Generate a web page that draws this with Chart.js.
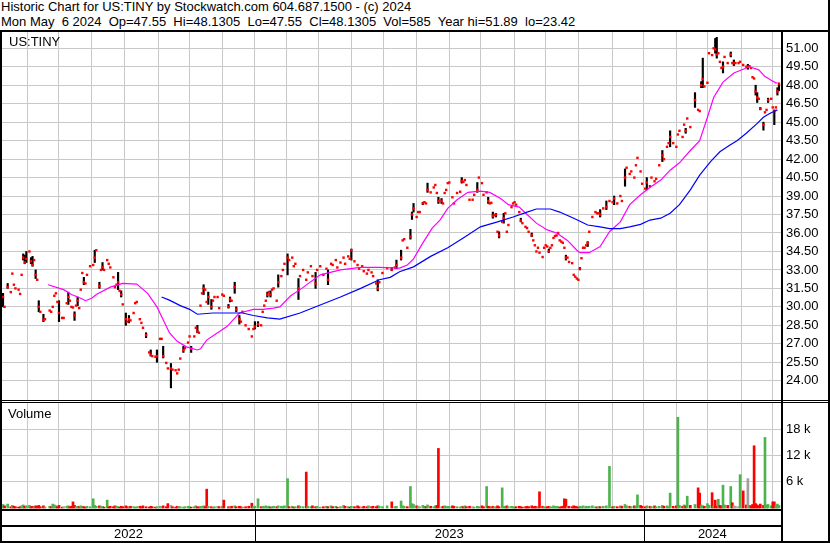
<!DOCTYPE html>
<html><head><meta charset="utf-8">
<script src="https://cdn.jsdelivr.net/npm/chart.js@4.4.1/dist/chart.umd.min.js"></script>
<style>
html,body{margin:0;padding:0;background:#fff;}
#wrap{position:relative;width:830px;height:543px;overflow:hidden;font-family:"Liberation Sans",Arial,sans-serif;color:#000;background:#fff;}
.t{position:absolute;white-space:pre;font-size:13px;line-height:15px;}
.ln{position:absolute;background:#000;}
canvas{position:absolute;}
</style></head><body>
<div id="wrap">
 <div class="t" style="left:1px;top:-1px">Historic Chart for US:TINY by Stockwatch.com 604.687.1500 - (c) 2024</div>
 <div class="t" style="left:1px;top:14px">Mon May  6 2024  Op=47.55  Hi=48.1305  Lo=47.55  Cl=48.1305  Vol=585  Year hi=51.89  lo=23.42</div>
 <canvas id="pc" width="826" height="368" style="left:2px;top:32px"></canvas>
 <canvas id="vc" width="826" height="138" style="left:2px;top:403px"></canvas>
 <div class="t" style="left:9px;top:34px">US:TINY</div>
 <div class="t" style="left:8px;top:406px">Volume</div>
 <div class="ln" style="left:0;top:30px;width:830px;height:2px"></div>
 <div class="ln" style="left:0;top:30px;width:2px;height:513px"></div>
 <div class="ln" style="left:828px;top:0;width:2px;height:543px"></div>
 <div class="ln" style="left:781px;top:30px;width:2px;height:513px"></div>
 <div class="ln" style="left:0;top:400px;width:830px;height:1px"></div>
 <div class="ln" style="left:0;top:402px;width:830px;height:1px"></div>
 <div class="ln" style="left:0;top:541px;width:830px;height:2px"></div>
</div>
<script>
// ---- data (x = trading-day number since start of chart, May 2022) ----
const day = [
0,1,3,5,6,7,8,10,11,12,
13,14,15,17,18,19,20,21,22,23,
24,26,27,30,31,32,33,34,35,36,
38,39,41,42,43,44,45,46,47,48,
49,50,51,52,53,54,56,58,59,60,
62,63,64,65,67,68,69,71,72,73,
74,75,76,77,79,80,81,82,84,85,
86,88,89,90,92,94,95,96,98,99,
101,102,103,105,106,108,109,111,112,113,
114,116,117,119,120,121,123,124,125,126,
127,128,129,130,131,132,134,135,136,138,
139,141,142,145,146,147,149,150,152,153,
154,156,158,160,161,162,164,166,167,168,
169,170,171,172,173,174,176,177,
179,180,181,183,184,186,187,188,190,191,
193,195,196,198,199,201,202,204,206,208,
209,211,212,214,215,217,219,220,222,223,
224,226,228,229,231,232,234,235,237,238,
240,241,
242,244,247,250,252,253,256,257,258,260,
262,263,264,266,267,268,270,271,272,273,
275,277,278,279,280,282,283,284,285,286,
287,289,290,292,294,295,296,297,298,300,
302,303,305,306,308,309,311,312,313,314,
315,316,317,318,319,321,322,323,324,325,
327,328,329,330,332,333,334,336,337,338,
340,341,342,343,344,345,347,348,349,350,
351,352,353,354,355,356,357,358,359,360,
361,362,363,364,366,367,368,369,370,371,
372,373,374,375,376,377,379,381,382,383,
384,386,388,390,392,393,395,397,398,400,
401,403,404,406,407,408,410,411,413,414,
416,417,419,420,422,424,425,427,428,429,
431,433,434,435,437,438,
439,440,442,445,447,448,449,450,451,453,
454,456,457,458,459,460,461,462,463,464,
466,468,469,470,471,473,474,476,478,479,
480,481,482,483,484,485,486,487,489,490,
491,492,494,495,496,497,498,499
];
const close = [
30.8,30.0,31.6,31.2,32.7,31.8,31.5,31.4,31.05,32.6,
34.0,33.6,33.9,34.5,33.7,33.4,33.8,32.6,32.2,30.0,
29.6,28.95,29.0,29.7,29.6,30.0,30.9,31.1,30.4,29.5,
29.1,29.1,30.3,30.8,30.5,30.0,29.95,29.3,30.1,30.5,
29.9,31.4,32.75,32.0,31.9,32.6,33.3,33.4,34.0,34.6,
31.7,33.0,33.2,33.0,33.8,33.5,33.2,32.4,31.6,31.8,
32.0,31.3,31.0,30.2,29.0,28.8,29.0,28.9,29.5,30.3,
30.4,29.0,28.7,28.3,27.7,26.3,26.1,26.0,25.95,26.0,
27.4,27.4,26.0,25.45,25.0,25.0,24.9,24.85,24.6,24.9,
25.8,26.5,26.65,27.1,27.6,26.6,27.6,28.3,28.0,27.9,
30.1,31.1,31.5,31.4,30.4,30.8,30.0,30.5,30.8,30.8,
29.9,31.0,30.9,30.0,30.6,30.5,31.6,29.8,29.0,28.8,
29.6,28.5,28.2,27.6,28.2,28.4,28.6,28.5,29.6,30.1,
30.5,31.0,31.2,31.0,31.4,31.5,30.5,32.0,
32.5,33.0,33.5,34.0,33.8,34.0,33.3,33.5,31.5,32.5,
33.0,32.2,32.8,33.3,32.5,31.9,33.0,33.3,32.6,33.1,
32.2,33.5,33.4,33.8,33.2,33.6,34.0,33.5,34.1,33.9,
34.6,33.7,33.4,33.1,33.3,32.9,32.7,33.0,32.8,32.5,
31.9,31.5,
32.0,32.75,33.15,33.0,33.2,33.4,34.0,35.4,35.5,34.8,
35.7,37.5,38.0,37.3,37.7,37.7,38.4,38.5,38.4,39.5,
39.3,39.7,39.9,39.25,38.6,38.6,38.4,39.25,39.5,40.05,
40.1,38.9,38.4,39.25,39.35,40.2,40.15,40.3,39.9,38.7,
38.7,39.1,39.5,40.5,40.05,39.1,39.3,38.6,38.4,38.45,
37.4,37.45,37.5,36.1,35.8,36.9,37.2,37.6,36.1,36.65,
38.1,38.4,38.5,38.3,37.7,37.0,36.8,36.5,36.4,36.1,
35.8,35.4,35.0,34.5,34.8,34.4,34.05,34.8,35.0,34.9,
34.5,34.8,35.0,35.6,35.75,35.8,36.0,35.4,35.3,35.2,
34.8,34.0,34.0,33.65,33.55,32.6,32.45,32.3,32.2,33.1,
33.95,34.8,34.8,35.0,35.2,36.1,37.3,37.7,37.6,37.6,
37.5,38.0,38.1,38.6,38.5,38.8,38.4,39.0,38.6,40.5,
41.3,40.8,41.0,40.5,41.5,42.1,41.0,40.0,39.6,40.1,
39.8,40.5,40.2,40.4,41.5,42.3,42.0,43.0,43.3,43.8,
43.3,43.0,44.0,44.3,43.8,44.8,
44.3,45.3,44.6,46.8,46.0,45.9,48.0,48.5,47.9,48.2,
50.6,50.45,51.0,50.9,50.5,50.6,49.9,49.4,49.5,50.3,
49.8,50.5,49.8,49.8,49.8,49.8,49.9,49.65,49.5,49.5,
49.55,49.4,48.65,48.55,47.5,47.0,46.9,46.1,44.8,45.8,
46.0,46.8,46.9,46.2,45.9,46.2,47.5,48.1305
];
const volume = [
800,500,900,300,600,400,300,200,300,500,
700,400,500,600,300,400,300,500,400,600,
300,500,200,400,300,900,700,500,300,600,
200,300,400,500,300,400,1400,600,300,400,
300,500,400,300,200,400,300,2100,600,400,
500,300,400,200,1800,300,400,300,500,400,
300,200,400,300,500,300,200,400,300,200,
300,400,300,500,300,200,400,300,200,300,
400,300,500,300,1000,600,300,200,400,300,
300,200,300,400,300,200,300,500,300,200,
400,300,500,300,4300,400,300,200,300,400,
300,400,1800,300,200,400,500,300,400,300,
200,300,400,1100,300,400,2100,300,400,300,
500,300,400,200,300,400,300,500,
400,300,500,6700,300,400,200,300,500,400,
300,8200,400,300,500,300,400,200,300,400,
300,500,300,400,200,300,600,400,300,200,
400,300,500,300,200,400,300,500,300,400,
300,500,
400,300,500,1400,300,400,1600,500,400,300,
4900,1000,800,500,400,300,600,400,300,700,
400,300,500,600,13600,300,400,500,300,400,
300,500,400,300,200,400,300,500,300,400,
300,200,400,300,500,300,4900,400,300,200,
400,300,200,500,300,4600,400,300,500,300,
400,300,200,300,400,300,200,300,400,300,
500,300,400,300,200,3700,400,300,200,300,
400,300,200,500,300,400,300,200,300,400,
2100,2000,300,400,300,500,400,300,200,400,
300,500,300,400,300,400,500,300,200,400,
300,400,500,9500,300,400,300,500,400,800,
500,400,300,500,400,3000,600,400,300,500,
400,300,500,300,400,600,400,500,300,3400,
400,500,20700,600,400,700,
500,2700,600,800,4600,3400,700,500,400,1000,
600,3500,500,1800,400,2000,600,500,5200,700,
600,4900,1200,500,400,300,7600,3900,700,6700,
600,500,800,14200,1000,700,500,900,600,16100,
700,800,500,1400,1400,600,900,585
];
// days with a visible high-low range
const rangeDay  = [0,3,13,14,15,18,19,21,23,26,36,42,46,48,52,59,62,64,74,76,79,81,92,95,99,103,108,116,121,125,129,132,134,145,146,149,150,152,162,164,170,172,177,183,190,201,209,224,241,250,253,256,262,263,264,270,273,280,282,295,305,312,315,317,319,322,333,340,351,362,371,376,384,388,393,400,414,424,429,439,445,449,450,458,459,463,468,470,479,484,485,487,489,492,496,498,499];
const rangeHigh = [31.1,31.9,34.3,34.2,34.5,34.0,34.1,33.0,30.5,29.4,30.5,31.2,29.6,30.8,32.4,34.6,32.0,33.6,32.8,31.3,29.5,29.3,27.9,26.5,26.5,26.8,25.4,26.8,26.8,28.5,31.8,31.2,30.6,30.2,30.8,32.0,30.0,29.3,28.8,28.8,31.2,31.3,32.6,34.3,32.3,32.8,33.0,34.7,32.2,33.2,33.8,34.6,36.3,37.7,38.4,38.5,40.05,38.9,38.8,40.5,40.1,38.9,37.7,37.6,36.1,37.6,37.2,36.0,34.7,34.2,33.2,35.3,37.9,38.6,39.0,41.2,40.5,42.7,44.3,44.5,47.4,48.3,50.2,51.8,51.89,49.9,50.7,50.05,49.7,48.0,47.4,46.2,45.0,46.95,46.0,47.8,48.1305];
const rangeLow  = [30.0,31.5,33.8,33.5,33.6,33.5,33.3,32.3,29.6,28.8,28.8,30.2,28.9,30.1,31.8,33.6,31.5,33.0,31.4,30.8,28.5,28.7,27.5,26.0,25.5,25.85,23.42,26.3,26.3,27.9,31.0,30.2,29.8,29.9,30.4,31.1,29.6,28.6,28.2,28.4,30.8,30.8,31.6,32.6,30.6,31.5,31.8,33.8,31.3,32.95,33.1,33.8,35.5,37.1,37.7,38.3,39.3,38.4,38.4,40.05,39.3,38.4,37.2,37.3,35.6,36.8,36.9,35.7,34.4,33.8,33.0,34.9,37.3,37.9,38.3,39.8,39.5,41.8,43.0,44.1,46.2,47.8,47.8,50.6,50.2,49.0,50.3,49.6,49.3,47.2,46.6,46.0,44.35,46.6,44.8,47.2,47.55];
// moving averages
const maShortDay = [29,39,44,50,53,57,60,69,77,86,93,99,103,107,112,118,125,127,131,138,144,148,152,161,167,174,178,185,191,204,217,230,242,255,260,264,270,276,281,286,292,299,307,313,320,325,332,337,343,350,356,363,369,371,377,384,390,397,403,410,416,423,429,435,442,448,453,457,463,470,476,480,486,490,494,497,498];
const maShort    = [31.8,31.4,31.0,30.7,30.5,30.7,31.0,31.6,31.9,31.85,31.1,30.0,28.95,27.9,27.2,26.75,26.5,26.6,27.3,27.9,28.4,28.95,29.5,29.8,29.8,29.9,30.0,30.9,31.4,32.6,33.0,33.2,33.2,33.15,33.4,33.9,35.2,36.4,37.05,38.0,38.7,39.3,39.4,39.3,38.8,38.3,38.1,37.5,36.8,36.25,36.0,35.4,34.6,34.4,34.4,34.9,36.1,36.9,38.3,39.1,39.7,40.3,41.1,41.7,42.7,43.5,45.4,47.0,48.25,49.0,49.3,49.5,49.25,48.7,48.4,48.2,48.2];
const maLongDay  = [102,107,114,120,125,135,148,154,161,170,178,191,204,217,230,242,249,255,264,275,286,296,307,318,328,337,343,352,358,367,376,384,390,397,403,410,416,423,429,435,442,448,455,461,467,472,478,485,489,493,498];
const maLong     = [30.8,30.55,30.1,29.8,29.4,29.5,29.5,29.5,29.3,29.1,29.0,29.5,30.15,30.8,31.5,32.2,32.4,32.85,33.25,34.1,34.8,35.6,36.5,36.9,37.3,37.7,37.95,37.95,37.7,37.2,36.65,36.5,36.35,36.35,36.5,36.7,37.05,37.2,37.6,38.3,39.5,40.7,41.8,42.6,43.1,43.5,44.1,44.9,45.4,45.7,46.0];
const priceTicks = [24,25.5,27,28.5,30,31.5,33,34.5,36,37.5,39,40.5,42,43.5,45,46.5,48,49.5,51];
const volTicks = [6000,12000,18000];
const monthStartDays = [16,36,57,78,100,120,141,162,182,203,224,245,266,287,307,329,349,370,392,412,433,453,475,495];
const yearStartDays = [162,412];
const yearLabels = ['2022','2023','2024'];

if (close.length !== day.length || volume.length !== day.length || rangeHigh.length !== rangeDay.length || rangeLow.length !== rangeDay.length || maShort.length !== maShortDay.length || maLong.length !== maLongDay.length) {
  throw new Error('length mismatch ' + [day.length, close.length, volume.length, rangeDay.length, rangeHigh.length, rangeLow.length, maShortDay.length, maShort.length, maLongDay.length, maLong.length].join(','));
}

// ---- chart ----
const FONT = '"Liberation Sans", Arial, sans-serif';
Chart.defaults.font.family = FONT;
Chart.defaults.font.size = 13;
Chart.defaults.color = '#000';
const GRID = '#c8c8c8';
const X_MIN = -0.643, X_MAX = 500.3;

function noPad(s) { s.paddingTop = 0; s.paddingBottom = 0; s.paddingLeft = 0; s.paddingRight = 0; }
function xAxis() {
  return {
    type: 'linear', min: X_MIN, max: X_MAX, offset: false,
    grid: { color: GRID, lineWidth: 1, drawTicks: false, offset: false },
    border: { display: false },
    ticks: { display: false },
    afterBuildTicks: s => { s.ticks = monthStartDays.map(v => ({ value: v })); },
    afterFit: s => { s.height = 0; noPad(s); }
  };
}
const common = {
  responsive: false, animation: false, events: [],
  plugins: { legend: { display: false }, tooltip: { enabled: false } }
};

new Chart(document.getElementById('pc'), {
  type: 'bar',
  data: {
    datasets: [
      { type: 'bar', data: rangeDay.map((d, k) => ({ x: d, y: [rangeLow[k], rangeHigh[k]] })),
        backgroundColor: '#000', barThickness: 1.5, grouped: false, order: 4 },
      { type: 'scatter', data: day.map((d, k) => ({ x: d, y: close[k] })),
        pointStyle: 'rect', pointRadius: 1.7, pointBackgroundColor: '#ff0000', pointBorderWidth: 0, order: 3 },
      { type: 'line', data: maShortDay.map((d, k) => ({ x: d, y: maShort[k] })),
        borderColor: '#ff00ff', borderWidth: 1.2, pointRadius: 0, tension: 0, order: 2 },
      { type: 'line', data: maLongDay.map((d, k) => ({ x: d, y: maLong[k] })),
        borderColor: '#0000ff', borderWidth: 1.2, pointRadius: 0, tension: 0, order: 1 }
    ]
  },
  options: Object.assign({}, common, {
    layout: { padding: 0, autoPadding: false },
    scales: {
      x: xAxis(),
      y: {
        type: 'linear', position: 'right', min: 22.436, max: 52.324,
        grid: { color: GRID, lineWidth: 1, drawTicks: false },
        border: { display: false },
        ticks: { padding: 5, autoSkip: false, maxRotation: 0, callback: v => Number(v).toFixed(2) },
        afterBuildTicks: s => { s.ticks = priceTicks.map(v => ({ value: v })); },
        afterFit: s => { s.width = 47; noPad(s); }
      }
    }
  })
});

const volColors = close.map((c, k) => k === 0 ? '#4db34d' : (c > close[k - 1] ? '#4db34d' : (c < close[k - 1] ? '#ff0000' : '#a0a0a0')));

const yearRows = {
  id: 'yearRows',
  afterDraw(chart) {
    const { ctx, chartArea: a, scales: { x } } = chart;
    ctx.save();
    ctx.fillStyle = '#000';
    ctx.fillRect(a.left, a.bottom, a.right - a.left, 2);
    ctx.fillRect(a.left, a.bottom + 16, a.right - a.left, 2);
    const bounds = [a.left].concat(yearStartDays.map(d => x.getPixelForValue(d)), [a.right]);
    yearStartDays.forEach(d => {
      const px = Math.round(x.getPixelForValue(d));
      ctx.fillRect(px, a.bottom, 1, chart.height - a.bottom);
    });
    ctx.font = '13px ' + FONT;
    ctx.textAlign = 'center';
    ctx.textBaseline = 'alphabetic';
    yearLabels.forEach((t, k) => ctx.fillText(t, (bounds[k] + bounds[k + 1]) / 2, a.bottom + 29));
    ctx.restore();
  }
};

new Chart(document.getElementById('vc'), {
  type: 'bar',
  data: {
    datasets: [
      { data: day.map((d, k) => ({ x: d, y: volume[k] })), backgroundColor: volColors, barThickness: 2, grouped: false }
    ]
  },
  options: Object.assign({}, common, {
    layout: { padding: { top: 0, left: 0, right: 0, bottom: 32 }, autoPadding: false },
    scales: {
      x: xAxis(),
      y: {
        type: 'linear', position: 'right', min: -228, max: 23960,
        grid: { color: GRID, lineWidth: 1, drawTicks: false },
        border: { display: false },
        ticks: { padding: 5, autoSkip: false, maxRotation: 0, callback: v => (v / 1000) + ' k' },
        afterBuildTicks: s => { s.ticks = volTicks.map(v => ({ value: v })); },
        afterFit: s => { s.width = 47; noPad(s); }
      }
    }
  }),
  plugins: [yearRows]
});
</script>
</body></html>
